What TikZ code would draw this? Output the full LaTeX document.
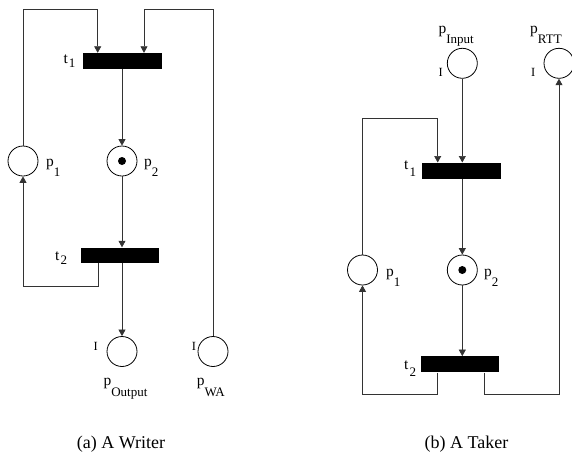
\documentclass[tikz,border=0pt]{standalone}
\usepackage{fontspec}
\setmainfont{Liberation Serif}
\usetikzlibrary{arrows.meta}
\newcommand\psub[2]{#1\raisebox{-10.5pt}{\fontsize{13}{13}\selectfont #2}}
\newcommand\tsub[3]{#1\kern1pt\raisebox{-#3}{\fontsize{13}{13}\selectfont #2}}
\begin{document}
\begin{tikzpicture}[x=1pt,y=-1pt,
  place/.style={circle,draw,line width=0.8pt,minimum size=30pt,inner sep=0pt},
  trans/.style={rectangle,fill=black,draw=none,minimum width=79pt,minimum height=16pt,inner sep=0pt},
  arc/.style={draw=black!80,line width=0.7pt},
  arr/.style={arc,-{Triangle[length=6.5pt,width=7pt]}},
  lab/.style={anchor=base west,inner sep=0pt,font=\fontsize{15.5}{15.5}\selectfont},
  ilab/.style={anchor=base west,inner sep=0pt,font=\fontsize{12.5}{13}\selectfont},
  tok/.style={circle,fill=black,minimum size=8pt,inner sep=0pt},
  captext/.style={anchor=base,inner sep=0pt,font=\fontsize{18}{18}\selectfont}]
\useasboundingbox (0,0) rectangle (572,461);

% ---------- (a) Writer ----------
\node[trans] (wt1) at (122,61) {};
\node[trans,minimum width=78pt,minimum height=15pt] (wt2) at (120,255) {};
\node[place] (wp1) at (23,161) {};
\node[place] (wp2) at (122,161) {};
\node[tok] (wtok) at (wp2) {};
\node[place] (wpo) at (122,351.5) {};
\node[place] (wpwa) at (213,351.5) {};

\coordinate (wtopL) at (97.7,9.3);
\coordinate (wtopR) at (144,9.3);
\coordinate (wbot) at (98.3,286);

\draw[arr] (wp1.north) |- (wtopL) -- (wtopL |- wt1.north);
\draw[arr] (wpwa.north) |- (wtopR) -- (wtopR |- wt1.north);
\draw[arr] (wt1.south) -- (wp2.north);
\draw[arr] (wp2.south) -- (wp2.south |- wt2.north);
\draw[arr] (wbot |- wt2.south) -- (wbot) -| (wp1.south);
\draw[arr] (wpo.north |- wt2.south) -- (wpo.north);

\node[lab] (lwt1) at (63.3,63) {\tsub{t}{1}{4.5pt}};
\node[lab] (lwt2) at (55,260) {\tsub{t}{2}{4.5pt}};
\node[lab] (lwp1) at (46,166) {\psub{p}{1}};
\node[lab] (lwp2) at (144,166) {\psub{p}{2}};
\node[lab] (lwpo) at (103.3,385.7) {\psub{p}{Output}};
\node[lab] (lwpwa) at (196.7,385.7) {\psub{p}{WA}};
\node[ilab] (lwi1) at (93.3,350) {I};
\node[ilab] (lwi2) at (191.7,350) {I};

% ---------- (b) Taker ----------
\node[place] (kpi) at (462.3,63.3) {};
\node[place] (kpr) at (559,63.3) {};
\node[trans] (kt1) at (461.7,170.7) {};
\node[place] (kp1) at (362.5,270) {};
\node[place] (kp2) at (462.3,270) {};
\node[tok] (ktok) at (kp2) {};
\node[trans,minimum width=78pt] (kt2) at (460,364.3) {};

\coordinate (ktopL) at (437.7,118.3);
\coordinate (kbotL) at (437.7,394.3);
\coordinate (kbotR) at (484,394.3);

\draw[arr] (kpi.south) -- (kpi.south |- kt1.north);
\draw[arr] (kp1.north) |- (ktopL) -- (ktopL |- kt1.north);
\draw[arr] (kp2.north |- kt1.south) -- (kp2.north);
\draw[arr] (kp2.south) -- (kp2.south |- kt2.north);
\draw[arr] (kbotL |- kt2.south) -- (kbotL) -| (kp1.south);
\draw[arr] (kbotR |- kt2.south) -- (kbotR) -| (kpr.south);

\node[lab] (lkpi) at (438.3,33) {\psub{p}{Input}};
\node[lab] (lkpr) at (530,33) {\psub{p}{RTT}};
\node[ilab] (lki1) at (438.3,76.7) {I};
\node[ilab] (lki2) at (531,76.7) {I};
\node[lab] (lkt1) at (404,169) {\tsub{t}{1}{7.5pt}};
\node[lab] (lkt2) at (404,369) {\tsub{t}{2}{7.5pt}};
\node[lab] (lkp1) at (386,276) {\psub{p}{1}};
\node[lab] (lkp2) at (484,276) {\psub{p}{2}};

% ---------- captions ----------
\node[captext] (capa) at (121,448) {(a) A Writer};
\node[captext] (capb) at (466.5,448) {(b) A Taker};
\end{tikzpicture}
\end{document}
